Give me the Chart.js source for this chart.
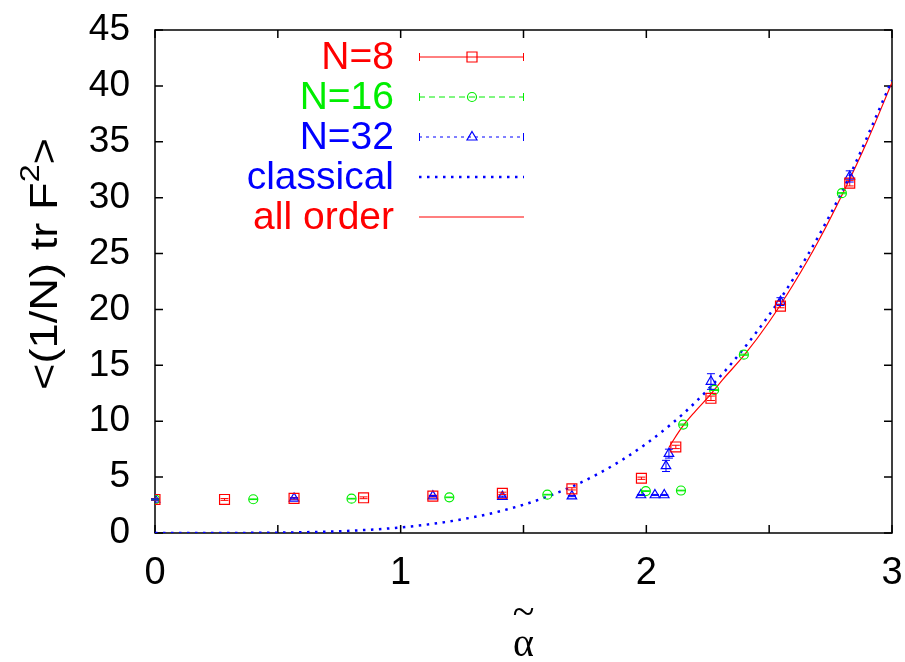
<!DOCTYPE html>
<html>
<head>
<meta charset="utf-8">
<title>&lt;(1/N) tr F^2&gt; vs alpha</title>
<script src="https://cdn.jsdelivr.net/npm/chart.js@4.4.1/dist/chart.umd.min.js"></script>
<style>
  html, body { margin: 0; padding: 0; background: #fff; }
  #plot { display: block; }
</style>
</head>
<body>
<canvas id="plot" width="905" height="662"></canvas>
<script>
/*******************************************************
 * DATA
 *******************************************************/
// N=8 (red squares)
const N8_ALPHA = [0, 0.283, 0.566, 0.849, 1.131, 1.414, 1.697, 1.980, 2.120, 2.263, 2.546, 2.828];
const N8_VAL   = [3.0, 3.0, 3.1, 3.15, 3.3, 3.55, 3.95, 4.9, 7.7, 12.05, 20.3, 31.3];
const N8_ERR   = [0.08, 0.08, 0.08, 0.08, 0.08, 0.1, 0.1, 0.1, 0.15, 0.2, 0.15, 0.25];

// N=16 (green circles)
const N16_ALPHA = [0, 0.40, 0.80, 1.198, 1.597, 1.998, 2.141, 2.150, 2.276, 2.397, 2.796];
const N16_VAL   = [3.0, 3.02, 3.07, 3.19, 3.43, 3.75, 3.8, 9.7, 12.8, 15.95, 30.4];
const N16_ERR   = [0.03, 0.03, 0.03, 0.03, 0.03, 0.03, 0.03, 0.05, 0.05, 0.05, 0.05];

// N=32 (blue triangles)
const N32_ALPHA = [0, 0.566, 1.131, 1.414, 1.697, 1.978, 2.035, 2.073, 2.080, 2.092, 2.263, 2.546, 2.828];
const N32_VAL   = [3.0, 3.1, 3.3, 3.25, 3.3, 3.4, 3.4, 3.4, 6.0, 7.1, 13.55, 20.7, 31.9];
const N32_ERR   = [0.05, 0.05, 0.05, 0.05, 0.05, 0.05, 0.05, 0.05, 0.5, 0.4, 0.7, 0.35, 0.5];

// classical curve (blue dotted)
const CLASSICAL_ALPHA = [0, 0.2, 0.4, 0.6, 0.8, 1.0, 1.2, 1.4, 1.6, 1.8, 2.0, 2.2, 2.4, 2.6, 2.8, 3.0];
const CLASSICAL_VAL   = [0, 0.001, 0.013, 0.065, 0.205, 0.5, 1.04, 1.92, 3.28, 5.25, 8.0, 11.7, 16.6, 22.8, 30.7, 40.5];

// all order curve (red solid)
const ALLORDER_ALPHA = [2.092, 2.11, 2.15, 2.2, 2.26, 2.31, 2.4, 2.5, 2.6, 2.7, 2.8, 2.9, 3.0];
const ALLORDER_VAL   = [7.65, 8.3, 9.6, 10.9, 12.35, 13.7, 15.95, 18.9, 22.3, 26.1, 30.4, 35.1, 40.3];

const X_TICKS = [0, 1, 2, 3];
const Y_TICKS = [0, 5, 10, 15, 20, 25, 30, 35, 40, 45];

const RED = "#ff0000", GREEN = "#00ee00", BLUE = "#0000ff";

function pts(xs, ys) {
  return xs.map((x, i) => ({ x: x, y: ys[i] }));
}

/*******************************************************
 * PLUGINS: frame + inward ticks, error bars, legend, titles
 *******************************************************/
const frame = {
  id: "frame",
  beforeDatasetsDraw(chart) {
    const { ctx, chartArea: a, scales: { x, y } } = chart;
    ctx.save();
    ctx.strokeStyle = "#000";
    ctx.lineWidth = 1.5;
    ctx.strokeRect(a.left, a.top, a.right - a.left, a.bottom - a.top);
    ctx.beginPath();
    for (let v = 0; v <= 3.0001; v += 0.5) {
      const px = x.getPixelForValue(v);
      ctx.moveTo(px, a.bottom); ctx.lineTo(px, a.bottom - 8);
      ctx.moveTo(px, a.top); ctx.lineTo(px, a.top + 8);
    }
    Y_TICKS.forEach(v => {
      const py = y.getPixelForValue(v);
      ctx.moveTo(a.left, py); ctx.lineTo(a.left + 8, py);
      ctx.moveTo(a.right, py); ctx.lineTo(a.right - 8, py);
    });
    ctx.stroke();
    ctx.restore();
  }
};

const errorBars = {
  id: "errorBars",
  afterDatasetsDraw(chart) {
    const { ctx, scales: { x, y } } = chart;
    chart.data.datasets.forEach(ds => {
      if (!ds.errors) return;
      ctx.save();
      ctx.strokeStyle = ds.borderColor;
      ctx.lineWidth = 1;
      ctx.beginPath();
      ds.data.forEach((p, j) => {
        const e = ds.errors[j];
        const px = x.getPixelForValue(p.x);
        const top = y.getPixelForValue(p.y + e);
        const bot = y.getPixelForValue(p.y - e);
        ctx.moveTo(px, top); ctx.lineTo(px, bot);
        ctx.moveTo(px - 4, top); ctx.lineTo(px + 4, top);
        ctx.moveTo(px - 4, bot); ctx.lineTo(px + 4, bot);
      });
      ctx.stroke();
      ctx.restore();
    });
  }
};

function drawMarker(ctx, style, cx, cy, color) {
  ctx.save();
  ctx.strokeStyle = color;
  ctx.lineWidth = 1.2;
  ctx.beginPath();
  if (style === "rect") {
    ctx.rect(cx - 5, cy - 5, 10, 10);
  } else if (style === "circle") {
    ctx.arc(cx, cy, 4.5, 0, Math.PI * 2);
  } else if (style === "triangle") {
    ctx.moveTo(cx, cy - 5.5);
    ctx.lineTo(cx + 5, cy + 3);
    ctx.lineTo(cx - 5, cy + 3);
    ctx.closePath();
  }
  ctx.stroke();
  ctx.restore();
}

const LEGEND_ROWS = [
  { text: "N=8", color: RED, dash: [], width: 1, marker: "rect", caps: true },
  { text: "N=16", color: GREEN, dash: [6, 4], width: 1, marker: "circle", caps: true },
  { text: "N=32", color: BLUE, dash: [3, 4], width: 1, marker: "triangle", caps: true },
  { text: "classical", color: BLUE, dash: [2.5, 5.5], width: 2.5, marker: null, caps: false },
  { text: "all order", color: RED, dash: [], width: 1.2, marker: null, caps: false }
];

const legendAndTitles = {
  id: "legendAndTitles",
  afterDraw(chart) {
    const { ctx, chartArea: a } = chart;
    ctx.save();
    // legend
    ctx.font = '39px "Liberation Sans", Arial, sans-serif';
    ctx.textAlign = "right";
    ctx.textBaseline = "middle";
    LEGEND_ROWS.forEach((r, i) => {
      const yy = 57 + i * 40;
      ctx.fillStyle = r.color;
      ctx.fillText(r.text, 394, yy + 1);
      ctx.strokeStyle = r.color;
      ctx.lineWidth = r.width;
      ctx.setLineDash(r.dash);
      ctx.beginPath();
      ctx.moveTo(419, yy); ctx.lineTo(524, yy);
      ctx.stroke();
      ctx.setLineDash([]);
      if (r.caps) {
        ctx.lineWidth = 1;
        ctx.beginPath();
        ctx.moveTo(419.5, yy - 4); ctx.lineTo(419.5, yy + 4);
        ctx.moveTo(523.5, yy - 4); ctx.lineTo(523.5, yy + 4);
        ctx.stroke();
      }
      if (r.marker) drawMarker(ctx, r.marker, 472, yy, r.color);
    });

    // x title: alpha with tilde
    ctx.fillStyle = "#000";
    ctx.textAlign = "center";
    ctx.font = '40px "Liberation Serif", "Times New Roman", serif';
    ctx.textBaseline = "middle";
    ctx.fillText("~", (a.left + a.right) / 2, 614);
    ctx.textBaseline = "alphabetic";
    ctx.fillText("\u03b1", (a.left + a.right) / 2, 656);

    // y title: <(1/N) tr F^2>, stretched along its length like the original
    const main = '38px "Liberation Sans", Arial, sans-serif';
    const sup = '27px "Liberation Sans", Arial, sans-serif';
    ctx.font = main;
    const w1 = ctx.measureText("<(1/N) tr F").width;
    const w3 = ctx.measureText(">").width;
    ctx.font = sup;
    const w2 = ctx.measureText("2").width;
    const total = w1 + w2 + w3;
    const stretch = 252 / total;
    ctx.translate(57, 264);
    ctx.rotate(-Math.PI / 2);
    ctx.scale(stretch, 1);
    ctx.textAlign = "left";
    ctx.textBaseline = "alphabetic";
    let cx = -total / 2;
    ctx.font = main;
    ctx.fillText("<(1/N) tr F", cx, 0);
    cx += w1;
    ctx.font = sup;
    ctx.fillText("2", cx, -18);
    cx += w2;
    ctx.font = main;
    ctx.fillText(">", cx, 0);
    ctx.restore();
  }
};

/*******************************************************
 * CHART
 *******************************************************/
const ctx = document.getElementById("plot").getContext("2d");

// tick marks are drawn by the frame plugin; the library's own (invisible)
// tick length is only used to push the labels away from the axes
const hiddenGrid = len => ({
  display: true,
  drawOnChartArea: false,
  drawTicks: true,
  tickLength: len,
  color: "rgba(0,0,0,0)"
});

new Chart(ctx, {
  type: "scatter",
  data: {
    datasets: [
      {
        label: "N=8",
        data: pts(N8_ALPHA, N8_VAL),
        errors: N8_ERR,
        borderColor: RED,
        backgroundColor: "rgba(0,0,0,0)",
        pointStyle: "rect",
        pointRadius: 7,
        pointBorderWidth: 1.2,
        showLine: false
      },
      {
        label: "N=16",
        data: pts(N16_ALPHA, N16_VAL),
        errors: N16_ERR,
        borderColor: GREEN,
        backgroundColor: "rgba(0,0,0,0)",
        pointStyle: "circle",
        pointRadius: 4.5,
        pointBorderWidth: 1.2,
        showLine: false
      },
      {
        label: "N=32",
        data: pts(N32_ALPHA, N32_VAL),
        errors: N32_ERR,
        borderColor: BLUE,
        backgroundColor: "rgba(0,0,0,0)",
        pointStyle: "triangle",
        pointRadius: 5.5,
        pointBorderWidth: 1.2,
        showLine: false
      },
      {
        label: "classical",
        data: pts(CLASSICAL_ALPHA, CLASSICAL_VAL),
        borderColor: BLUE,
        borderWidth: 2.5,
        borderDash: [2.5, 5.5],
        pointRadius: 0,
        showLine: true,
        cubicInterpolationMode: "monotone"
      },
      {
        label: "all order",
        data: pts(ALLORDER_ALPHA, ALLORDER_VAL),
        borderColor: RED,
        borderWidth: 1.2,
        pointRadius: 0,
        showLine: true,
        cubicInterpolationMode: "monotone"
      }
    ]
  },
  options: {
    responsive: false,
    animation: false,
    devicePixelRatio: 1,
    layout: { padding: { top: 30, right: 13, left: 0, bottom: 0 } },
    scales: {
      x: {
        type: "linear",
        min: 0,
        max: 3,
        afterFit: s => { s.height = 129; },
        afterBuildTicks: s => { s.ticks = X_TICKS.map(v => ({ value: v })); },
        ticks: {
          color: "#000",
          padding: 0,
          maxRotation: 0,
          font: { family: '"Liberation Sans", Arial, sans-serif', size: 38 }
        },
        grid: hiddenGrid(18),
        border: { display: false }
      },
      y: {
        type: "linear",
        min: 0,
        max: 45,
        afterFit: s => { s.width = 155; },
        afterBuildTicks: s => { s.ticks = Y_TICKS.map(v => ({ value: v })); },
        ticks: {
          color: "#000",
          padding: 0,
          font: { family: '"Liberation Sans", Arial, sans-serif', size: 37 }
        },
        grid: hiddenGrid(25),
        border: { display: false }
      }
    },
    plugins: {
      legend: { display: false },
      tooltip: { enabled: false }
    }
  },
  plugins: [frame, errorBars, legendAndTitles]
});
</script>
</body>
</html>
